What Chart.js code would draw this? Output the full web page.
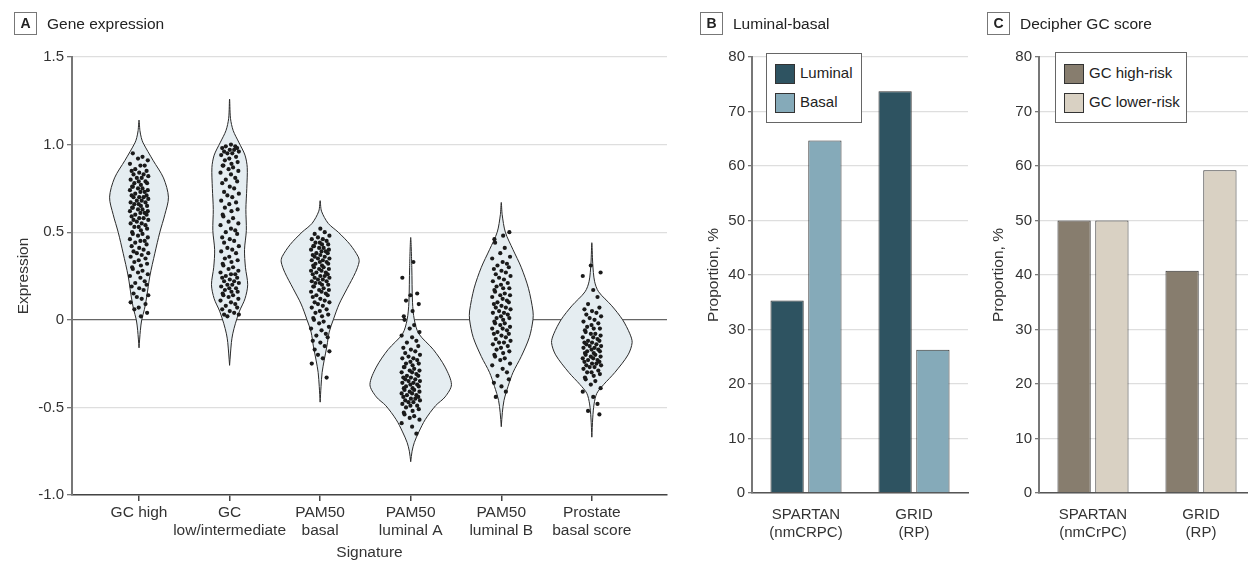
<!DOCTYPE html>
<html>
<head>
<meta charset="utf-8">
<script src="https://cdn.jsdelivr.net/npm/chart.js"></script>
<style>
  body { margin: 0; width: 1248px; height: 567px; overflow: hidden; position: relative; background: #fff;
         font-family: 'Liberation Sans Narrow', 'Arial Narrow', 'Liberation Sans', sans-serif; color: #222; }
  canvas { position: absolute; top: 0; }
  .ptitle { position: absolute; top: 12px; height: 23px; display: flex; align-items: center; font-size: 15.5px; z-index: 2; }
  .ptitle b { display: inline-block; box-sizing: border-box; width: 23px; height: 23px; border: 1px solid #777;
              text-align: center; line-height: 21px; font-size: 14px; margin-right: 10px; }
  .leg { position: absolute; box-sizing: border-box; border: 1px solid #666; background: #fff; font-size: 15px; z-index: 2; }
  .leg .sw { position: absolute; left: 8px; box-sizing: border-box; width: 20px; height: 20px; border: 1px solid #333; }
  .leg span { position: absolute; left: 33px; line-height: 20px; }
</style>
</head>
<body>
<div class="ptitle" style="left:14px"><b>A</b>Gene expression</div>
<div class="ptitle" style="left:700px"><b>B</b>Luminal-basal</div>
<div class="ptitle" style="left:987px"><b>C</b>Decipher GC score</div>

<canvas id="chartA" width="680" height="567" style="left:0"></canvas>
<canvas id="chartB" width="295" height="567" style="left:680px"></canvas>
<canvas id="chartC" width="290" height="567" style="left:975px"></canvas>

<div class="leg" style="left:766px;top:53px;width:96px;height:70px">
  <div class="sw" style="top:10px;background:#2e5361"></div><span style="top:9px">Luminal</span>
  <div class="sw" style="top:39px;background:#85aab9"></div><span style="top:38px">Basal</span>
</div>
<div class="leg" style="left:1055px;top:52px;width:132px;height:71px">
  <div class="sw" style="top:11px;background:#877d6e"></div><span style="top:10px">GC high-risk</span>
  <div class="sw" style="top:40px;background:#d9d1c3"></div><span style="top:39px">GC lower-risk</span>
</div>

<script>
// ---- Panel A: gene expression signatures ----
const signatures = [["GC high"], ["GC", "low/intermediate"], ["PAM50", "basal"],
                    ["PAM50", "luminal A"], ["PAM50", "luminal B"], ["Prostate", "basal score"]];
const expressionTicks = [-1, -0.5, 0, 0.5, 1, 1.5];

// violin outlines: [expression, half width (category units)], top to bottom
const gcHighShape = [[1.14,0],[1.08,0.01],[1.04,0.025],[1.01,0.045],[0.91,0.155],[0.81,0.27],[0.70,0.325],
  [0.60,0.285],[0.50,0.23],[0.38,0.175],[0.25,0.12],[0.13,0.085],[0.06,0.06],[0.0,0.03],[-0.06,0.015],[-0.16,0]];
const gcLowShape = [[1.26,0],[1.15,0.01],[1.08,0.04],[1.01,0.105],[0.94,0.17],[0.87,0.195],[0.75,0.19],
  [0.63,0.18],[0.51,0.185],[0.40,0.165],[0.30,0.175],[0.20,0.2],[0.12,0.17],[0.05,0.11],[-0.02,0.065],
  [-0.08,0.035],[-0.13,0.02],[-0.26,0]];
const pamBasalShape = [[0.68,0],[0.62,0.015],[0.55,0.09],[0.50,0.2],[0.43,0.33],[0.36,0.42],[0.33,0.43],
  [0.27,0.39],[0.18,0.30],[0.09,0.21],[0.0,0.145],[-0.07,0.10],[-0.15,0.075],[-0.23,0.045],[-0.30,0.022],
  [-0.38,0.01],[-0.47,0]];
const pamLumAShape = [[0.47,0],[0.30,0.012],[0.10,0.02],[0.0,0.04],[-0.08,0.09],[-0.17,0.25],[-0.27,0.38],
  [-0.37,0.45],[-0.44,0.38],[-0.49,0.275],[-0.57,0.16],[-0.64,0.09],[-0.70,0.04],[-0.75,0.015],[-0.81,0]];
const pamLumBShape = [[0.67,0],[0.60,0.01],[0.50,0.045],[0.40,0.13],[0.30,0.22],[0.18,0.30],[0.05,0.35],
  [0.0,0.35],[-0.10,0.31],[-0.21,0.22],[-0.30,0.13],[-0.38,0.075],[-0.46,0.03],[-0.53,0.012],[-0.61,0]];
const prostateShape = [[0.44,0],[0.32,0.01],[0.22,0.03],[0.16,0.075],[0.08,0.22],[0.0,0.34],[-0.08,0.42],
  [-0.13,0.445],[-0.20,0.40],[-0.30,0.255],[-0.37,0.13],[-0.42,0.055],[-0.48,0.025],[-0.56,0.01],[-0.67,0]];

// sample values
const gcHighPts = [0.95,0.93,0.92,0.91,0.89,0.88,0.88,0.86,0.85,0.85,0.84,0.83,0.83,0.82,0.81,0.81,0.80,0.79,0.79,
  0.78,0.78,0.77,0.76,0.76,0.75,0.75,0.74,0.74,0.73,0.73,0.72,0.71,0.71,0.70,0.70,0.70,0.69,0.68,0.68,0.67,0.67,
  0.66,0.66,0.65,0.65,0.64,0.64,0.63,0.63,0.62,0.62,0.61,0.61,0.60,0.60,0.59,0.58,0.58,0.57,0.57,0.56,0.55,0.55,
  0.54,0.53,0.53,0.52,0.51,0.50,0.49,0.49,0.48,0.47,0.46,0.45,0.45,0.44,0.43,0.42,0.41,0.40,0.39,0.38,0.38,0.37,
  0.36,0.35,0.34,0.33,0.32,0.31,0.30,0.29,0.28,0.27,0.26,0.25,0.24,0.22,0.21,0.20,0.19,0.18,0.17,0.15,0.14,0.13,
  0.12,0.10,0.09,0.07,0.06,0.04,0.02];
const gcLowPts = [1.00,0.99,0.99,0.98,0.98,0.97,0.97,0.96,0.96,0.95,0.95,0.94,0.93,0.92,0.91,0.90,0.89,0.88,0.88,
  0.87,0.86,0.85,0.84,0.83,0.81,0.80,0.79,0.78,0.76,0.75,0.73,0.72,0.71,0.70,0.68,0.67,0.66,0.64,0.63,0.62,0.60,
  0.59,0.58,0.56,0.55,0.54,0.52,0.51,0.50,0.49,0.47,0.46,0.45,0.44,0.42,0.41,0.40,0.39,0.38,0.36,0.35,0.34,0.33,
  0.32,0.31,0.30,0.29,0.28,0.27,0.26,0.26,0.25,0.24,0.24,0.23,0.22,0.22,0.21,0.20,0.20,0.19,0.18,0.18,0.17,0.16,
  0.16,0.15,0.14,0.14,0.13,0.12,0.11,0.10,0.09,0.08,0.07,0.06,0.05,0.04,0.03,0.03,0.02];
const pamBasalPts = [0.52,0.50,0.49,0.48,0.47,0.46,0.46,0.45,0.44,0.44,0.43,0.43,0.42,0.42,0.41,0.41,0.40,0.40,
  0.39,0.39,0.38,0.38,0.37,0.37,0.36,0.36,0.35,0.35,0.34,0.34,0.33,0.33,0.32,0.32,0.31,0.31,0.30,0.30,0.29,0.29,
  0.28,0.28,0.27,0.27,0.26,0.26,0.25,0.25,0.24,0.24,0.23,0.23,0.22,0.22,0.21,0.21,0.20,0.20,0.19,0.19,0.18,0.17,
  0.17,0.16,0.16,0.15,0.14,0.14,0.13,0.12,0.11,0.10,0.10,0.09,0.08,0.07,0.06,0.05,0.04,0.03,0.02,0.01,0.00,-0.01,
  -0.02,-0.04,-0.05,-0.06,-0.08,-0.09,-0.10,-0.12,-0.13,-0.15,-0.17,-0.18,-0.20,-0.22,-0.25,-0.33];
const pamLumAPts = [0.33,0.24,0.15,0.14,0.11,0.09,0.05,0.02,0.00,-0.03,-0.05,-0.07,-0.09,-0.10,-0.12,-0.13,-0.15,
  -0.16,-0.17,-0.18,-0.19,-0.20,-0.21,-0.22,-0.22,-0.23,-0.24,-0.25,-0.25,-0.26,-0.27,-0.27,-0.28,-0.29,-0.29,
  -0.30,-0.30,-0.31,-0.32,-0.32,-0.33,-0.33,-0.34,-0.34,-0.35,-0.35,-0.36,-0.36,-0.37,-0.37,-0.38,-0.38,-0.39,
  -0.39,-0.40,-0.40,-0.41,-0.41,-0.42,-0.42,-0.43,-0.43,-0.44,-0.44,-0.45,-0.45,-0.46,-0.46,-0.47,-0.47,-0.48,
  -0.49,-0.49,-0.50,-0.51,-0.52,-0.53,-0.54,-0.55,-0.56,-0.57,-0.59,-0.61,-0.65];
const pamLumBPts = [0.50,0.48,0.46,0.44,0.41,0.38,0.36,0.35,0.33,0.32,0.31,0.30,0.29,0.28,0.27,0.26,0.25,0.24,
  0.23,0.22,0.21,0.20,0.19,0.18,0.18,0.17,0.16,0.15,0.14,0.14,0.13,0.12,0.11,0.10,0.10,0.09,0.08,0.07,0.07,0.06,
  0.05,0.04,0.04,0.03,0.02,0.01,0.01,0.00,-0.01,-0.02,-0.02,-0.03,-0.04,-0.05,-0.05,-0.06,-0.07,-0.08,-0.08,-0.09,
  -0.10,-0.11,-0.12,-0.13,-0.13,-0.14,-0.15,-0.16,-0.17,-0.18,-0.19,-0.20,-0.21,-0.22,-0.23,-0.25,-0.26,-0.28,
  -0.30,-0.32,-0.34,-0.36,-0.38,-0.41,-0.44];
const prostatePts = [0.31,0.27,0.25,0.17,0.13,0.09,0.07,0.06,0.05,0.04,0.03,0.02,0.01,0.00,-0.01,-0.02,-0.03,-0.04,
  -0.05,-0.05,-0.06,-0.07,-0.08,-0.08,-0.09,-0.10,-0.10,-0.11,-0.12,-0.12,-0.13,-0.13,-0.14,-0.14,-0.15,-0.15,
  -0.16,-0.16,-0.17,-0.17,-0.18,-0.18,-0.19,-0.19,-0.20,-0.20,-0.21,-0.21,-0.22,-0.22,-0.23,-0.23,-0.24,-0.24,
  -0.25,-0.25,-0.26,-0.26,-0.27,-0.27,-0.28,-0.29,-0.30,-0.30,-0.31,-0.32,-0.33,-0.34,-0.35,-0.37,-0.39,-0.41,
  -0.44,-0.48,-0.52,-0.54];

const violinShapes = [gcHighShape, gcLowShape, pamBasalShape, pamLumAShape, pamLumBShape, prostateShape];
const violinPoints = [gcHighPts, gcLowPts, pamBasalPts, pamLumAPts, pamLumBPts, prostatePts];
// horizontal jitter, fraction of the jitter band
const jitter = [-0.62, 0.35, -0.1, 0.88, -0.91, 0.14, 0.57, -0.38, 0.76, -0.74, 0.02, 0.46,
                -0.55, 0.93, -0.22, 0.27, -0.84, 0.65, -0.03, -0.47, 0.81, 0.19, -0.69];

// ---- Panels B and C ----
const cohorts = [["SPARTAN", "(nmCRPC)"], ["GRID", "(RP)"]];
const cohortsC = [["SPARTAN", "(nmCrPC)"], ["GRID", "(RP)"]];
const luminal = [35.3, 73.7];
const basal = [64.7, 26.3];
const gcHighRisk = [50.0, 40.8];
const gcLowerRisk = [50.0, 59.2];
const proportionTicks = [0, 10, 20, 30, 40, 50, 60, 70, 80];

Chart.defaults.font.family = "'Liberation Sans Narrow', 'Arial Narrow', 'Liberation Sans', sans-serif";
Chart.defaults.color = '#333';

function outline(center, shape) {
  const right = shape.slice().reverse().map(([v, w]) => ({ x: center + w, y: v }));
  const left = shape.slice(1).map(([v, w]) => ({ x: center - w, y: v }));
  return right.concat(left);
}

const datasetsA = [];
violinPoints.forEach((pts, i) => {
  datasetsA.push({
    type: 'scatter',
    data: pts.map((v, k) => ({ x: i + jitter[(k + i * 5) % jitter.length] * 0.11, y: v })),
    pointRadius: 2.1, pointBackgroundColor: '#1a1a1a', pointBorderWidth: 0, order: 1
  });
});
violinShapes.forEach((shape, i) => {
  datasetsA.push({
    type: 'line',
    data: outline(i, shape),
    borderColor: '#2a2a2a', borderWidth: 1, backgroundColor: '#e5edf1',
    fill: 'shape', pointRadius: 0, tension: 0.3, order: 2
  });
});

new Chart(document.getElementById('chartA'), {
  data: { datasets: datasetsA },
  options: {
    responsive: false, animation: false,
    layout: { padding: { left: 0, right: 13, top: 57, bottom: 0 } },
    plugins: { legend: { display: false }, tooltip: { enabled: false } },
    scales: {
      x: {
        type: 'linear', min: -0.74, max: 5.83,
        afterBuildTicks: s => { s.ticks = signatures.map((c, i) => ({ value: i })); },
        afterFit: s => { s.height = 72; },
        ticks: { callback: v => signatures[v], font: { size: 15.5 }, padding: 2, maxRotation: 0, autoSkip: false },
        grid: { drawOnChartArea: false, tickLength: 6, tickColor: '#444', lineWidth: 1.5 },
        border: { color: '#444', width: 1.5 },
        title: { display: true, text: 'Signature', font: { size: 15.5 }, padding: { bottom: 5 } }
      },
      y: {
        min: -1, max: 1.5,
        afterBuildTicks: s => { s.ticks = expressionTicks.map(v => ({ value: v })); },
        afterFit: s => { s.width = 72; },
        ticks: { callback: v => (v === 0 ? '0' : v.toFixed(1)), font: { size: 15 }, padding: 3 },
        grid: { color: c => (c.tick && c.tick.value === 0 ? '#666' : '#dedede'), lineWidth: 1.3, tickColor: '#777', tickLength: 5 },
        border: { color: '#777', width: 2 },
        title: { display: true, text: 'Expression', font: { size: 15.5 }, padding: { top: 14 } }
      }
    }
  }
});

function barChart(id, labels, series, colors, yWidth, titlePad, rightPad) {
  new Chart(document.getElementById(id), {
    type: 'bar',
    data: {
      labels: labels,
      datasets: series.map((s, i) => ({
        data: s, backgroundColor: colors[i], borderColor: '#333', borderWidth: 1,
        categoryPercentage: 0.7, barPercentage: 0.88
      }))
    },
    options: {
      responsive: false, animation: false,
      layout: { padding: { left: 0, right: rightPad, top: 57, bottom: 0 } },
      plugins: { legend: { display: false }, tooltip: { enabled: false } },
      scales: {
        x: {
          afterFit: s => { s.height = 74; },
          ticks: { font: { size: 15 }, padding: 5, maxRotation: 0 },
          grid: { display: false },
          border: { color: '#555', width: 1.5 }
        },
        y: {
          min: 0, max: 80,
          afterBuildTicks: s => { s.ticks = proportionTicks.map(v => ({ value: v })); },
          afterFit: s => { s.width = yWidth; },
          ticks: { font: { size: 15 }, padding: 3 },
          grid: { color: '#dedede', lineWidth: 1.3, tickColor: '#777', tickLength: 4 },
          border: { color: '#777', width: 2 },
          title: { display: true, text: 'Proportion, %', font: { size: 15.5 }, padding: { top: titlePad } }
        }
      }
    }
  });
}

barChart('chartB', cohorts, [luminal, basal], ['#2e5361', '#85aab9'], 72, 24, 7);
barChart('chartC', cohortsC, [gcHighRisk, gcLowerRisk], ['#877d6e', '#d9d1c3'], 64, 14, 10);
</script>
</body>
</html>
